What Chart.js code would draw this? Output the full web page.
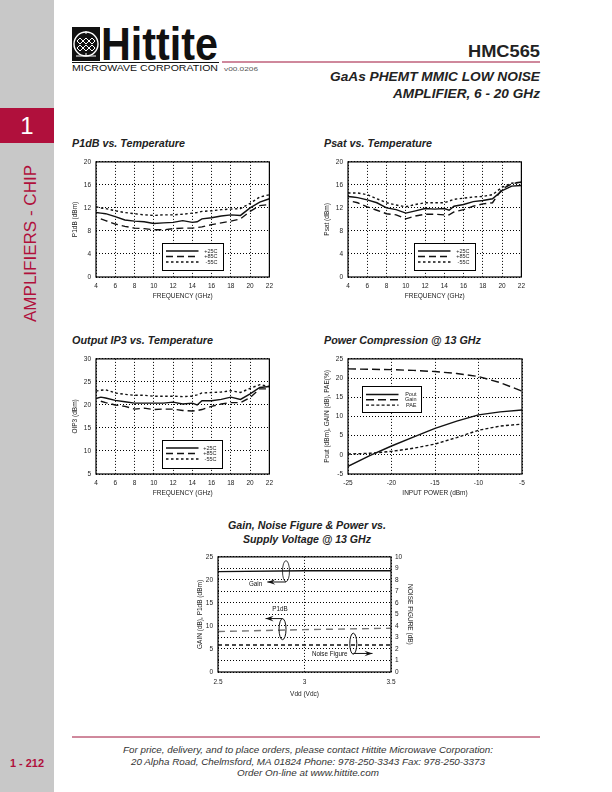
<!DOCTYPE html>
<html>
<head>
<meta charset="utf-8">
<script src="https://cdn.jsdelivr.net/npm/chart.js@4.4.1/dist/chart.umd.min.js"></script>
<style>
html, body { margin: 0; padding: 0; background: #fff; }
#page { position: relative; width: 612px; height: 792px; overflow: hidden; }
svg { position: absolute; left: 0; top: 0; }
canvas { position: absolute; }
</style>
</head>
<body>
<div id="page">
<svg width="612" height="792" font-family="'Liberation Sans', Arial, sans-serif">
  <!-- side bar -->
  <rect x="0" y="0" width="54" height="792" fill="#c8c8c8"/>
  <rect x="0" y="108" width="54" height="35" fill="#b0103c"/>
  <text x="27" y="134" fill="#fff" font-size="24" text-anchor="middle">1</text>
  <text transform="translate(36,322) rotate(-90)" fill="#b0103c" font-size="16" textLength="157" lengthAdjust="spacingAndGlyphs">AMPLIFIERS - CHIP</text>
  <text x="10" y="767" fill="#b0103c" font-size="10.5" font-weight="bold" textLength="34" lengthAdjust="spacingAndGlyphs">1 - 212</text>

  <!-- logo -->
  <rect x="72" y="27" width="28" height="34" fill="#111"/>
  <circle cx="86" cy="44" r="12" fill="none" stroke="#fff" stroke-width="1.4"/>
  <g stroke="#fff" stroke-width="1" fill="none">
    <path d="M80 38 l3 3 l-3 3 l-3 -3 z M86 38 l3 3 l-3 3 l-3 -3 z M92 38 l3 3 l-3 3 l-3 -3 z"/>
    <path d="M80 45 l3 3 l-3 3 l-3 -3 z M86 45 l3 3 l-3 3 l-3 -3 z M92 45 l3 3 l-3 3 l-3 -3 z"/>
    <path d="M86 31 v3 M86 53 v3 M76 56 h20"/>
  </g>
  <text x="101" y="60" fill="#111" font-size="46" font-weight="900" textLength="117" lengthAdjust="spacingAndGlyphs">Hittite</text>
  <line x1="72" y1="62.5" x2="219" y2="62.5" stroke="#111" stroke-width="1"/>
  <text x="72" y="71" fill="#111" font-size="9" textLength="146" lengthAdjust="spacingAndGlyphs">MICROWAVE CORPORATION</text>
  <text x="224" y="71" fill="#555" font-size="6" textLength="34" lengthAdjust="spacingAndGlyphs">v00.0206</text>

  <!-- header -->
  <line x1="222" y1="62" x2="540" y2="62" stroke="#a0123a" stroke-width="1.2"/>
  <text x="540" y="57" fill="#222" font-size="17" font-weight="bold" text-anchor="end" textLength="72" lengthAdjust="spacingAndGlyphs">HMC565</text>
  <text x="540" y="81" fill="#222" font-size="12.5" font-weight="bold" font-style="italic" text-anchor="end" textLength="210" lengthAdjust="spacingAndGlyphs">GaAs PHEMT MMIC LOW NOISE</text>
  <text x="540" y="98" fill="#222" font-size="12.5" font-weight="bold" font-style="italic" text-anchor="end" textLength="147" lengthAdjust="spacingAndGlyphs">AMPLIFIER, 6 - 20 GHz</text>

  <!-- chart titles -->
  <g fill="#222" font-size="10.5" font-weight="bold" font-style="italic">
    <text x="72" y="147" textLength="113" lengthAdjust="spacingAndGlyphs">P1dB vs. Temperature</text>
    <text x="324" y="147" textLength="108" lengthAdjust="spacingAndGlyphs">Psat vs. Temperature</text>
    <text x="72" y="344" textLength="141" lengthAdjust="spacingAndGlyphs">Output IP3 vs. Temperature</text>
    <text x="324" y="344" textLength="157" lengthAdjust="spacingAndGlyphs">Power Compression @ 13 GHz</text>
    <text x="307" y="529" text-anchor="middle" textLength="158" lengthAdjust="spacingAndGlyphs">Gain, Noise Figure &amp; Power vs.</text>
    <text x="307" y="543" text-anchor="middle" textLength="128" lengthAdjust="spacingAndGlyphs">Supply Voltage @ 13 GHz</text>
  </g>

  <!-- footer -->
  <line x1="72" y1="737" x2="540" y2="737" stroke="#a0123a" stroke-width="1"/>
  <g fill="#333" font-size="9" font-style="italic" text-anchor="middle">
    <text x="308" y="753" textLength="370" lengthAdjust="spacingAndGlyphs">For price, delivery, and to place orders, please contact Hittite Microwave Corporation:</text>
    <text x="308" y="765" textLength="354" lengthAdjust="spacingAndGlyphs">20 Alpha Road, Chelmsford, MA 01824  Phone: 978-250-3343  Fax: 978-250-3373</text>
    <text x="308" y="776" textLength="142" lengthAdjust="spacingAndGlyphs">Order On-line at www.hittite.com</text>
  </g>
</svg>
<canvas id="c1"></canvas>
<canvas id="c2"></canvas>
<canvas id="c3"></canvas>
<canvas id="c4"></canvas>
<canvas id="c5"></canvas>
</div>
<script>
// frequency points (GHz) shared by the three temperature plots
const freq = [4, 4.5, 5, 6, 7, 8, 9, 10, 11, 12, 13, 14, 14.5, 15, 16, 17, 18, 19, 20, 21, 22]

// P1dB vs temperature (dBm)
const p1db25 = [11.2, 11.1, 11.0, 10.5, 9.9, 9.7, 9.6, 9.3, 9.4, 9.5, 9.8, 9.5, 9.6, 10.1, 10.3, 10.6, 10.8, 10.7, 12.0, 13.0, 13.6]
const p1db85 = [null, 10.1, 9.8, 9.2, 8.8, 8.5, 8.4, 8.2, 8.2, 8.4, 8.5, 8.5, 8.6, 8.7, 9.1, 9.4, 9.7, 10.1, 11.4, 12.4, 12.6]
const p1dbM55 = [12.2, 12.0, 11.9, 11.5, 11.2, 11.0, 10.8, 10.7, 10.8, 10.8, 10.9, 11.1, 11.2, 11.4, 11.5, 11.7, 11.8, 11.9, 12.8, 13.9, 14.3]

// Psat vs temperature (dBm)
const psat25 = [14.0, 13.9, 13.8, 13.4, 12.9, 12.0, 11.7, 11.1, 11.5, 11.9, 11.8, 11.9, 11.6, 12.3, 12.6, 13.1, 13.3, 13.6, 15.0, 15.8, 15.9]
const psat85 = [null, 13.1, 12.9, 12.2, 11.6, 11.0, 10.8, 10.1, 10.6, 10.9, 10.9, 10.8, 10.8, 11.3, 11.7, 12.3, 12.7, 12.9, 15.3, 16.2, 16.5]
const psatM55 = [14.6, 14.6, 14.6, 14.3, 13.6, 12.9, 12.5, 12.2, 12.6, 12.9, 12.9, 12.9, 13.2, 13.5, 13.7, 13.9, 14.0, 14.3, 15.6, 16.3, 16.5]

// Output IP3 vs temperature (dBm)
const oip325 = [21.4, 21.7, 21.5, 21.0, 20.7, 20.4, 20.4, 20.4, 20.4, 20.6, 20.2, 20.4, 20.0, 20.9, 20.9, 21.2, 21.7, 21.2, 22.4, 23.8, 24.0]
const oip385 = [null, 20.8, 20.5, 20.0, 19.7, 19.1, 19.3, 19.0, 19.1, 19.1, 18.8, 18.7, 18.8, 19.0, 19.7, 20.2, 20.5, 20.5, 21.6, 23.5, 23.5]
const oip3M55 = [23.0, 23.2, 23.3, 22.6, 22.3, 22.1, 22.1, 21.9, 21.9, 21.9, 21.8, 21.9, 22.2, 22.6, 22.7, 22.8, 23.1, 22.7, 23.6, 24.4, 24.0]

// Power compression @ 13 GHz
const inputPower = [-25, -22.5, -20, -17.5, -15, -12.5, -10, -7.5, -5]
const pout = [-3.0, -0.2, 2.3, 4.6, 6.9, 8.8, 10.4, 11.2, 11.7]
const gainComp = [22.4, 22.3, 22.2, 22.0, 21.7, 21.2, 20.4, 18.8, 16.6]
const pae = [0.2, 0.4, 0.9, 1.7, 2.8, 4.5, 6.4, 7.5, 8.0]

// Supply voltage @ 13 GHz
const vdd = [2.5, 3.0, 3.5]
const gainVdd = [21.8, 22.0, 22.0]
const p1dbVdd = [8.8, 9.2, 9.5]
const nfVdd = [2.35, 2.35, 2.35]

const tempLabels = ['+25C', '+85C', '-55C']
const compLabels = ['Pout', 'Gain', 'PAE']

// callouts on the supply voltage plot (data coords)
const vddNotes = [
    { text: 'Gain', tx: 2.717, ty: 19.1, ex: 2.893, ey: 21.9, ay: 19.55, ax: 2.785 },
    { text: 'P1dB', tx: 2.858, ty: 13.6, ex: 2.873, ey: 9.3, ay: 11.6, ax: 2.775 },
    { text: 'Noise Figure', tx: 3.146, ty: 3.8, ex: 3.282, ey: 6.15, ay: 4.03, ax: 3.393 }
]

const FONT = "'Liberation Sans', Arial, sans-serif"
Chart.defaults.font.family = FONT
Chart.defaults.font.size = 6.5
Chart.defaults.color = '#222'

const pts = (xs, ys) => xs.map((x, i) => ({ x, y: ys[i] }))

const solid = []
const longDash = [7, 4]
const shortDash = [2.5, 2.5]

function series(label, xs, ys, dash, extra) {
    return Object.assign({
        label,
        data: pts(xs, ys),
        borderColor: '#111',
        borderWidth: 1.4,
        borderDash: dash,
        pointRadius: 0,
        tension: 0,
        fill: false
    }, extra || {})
}

// black frame round the plot area
const framePlugin = {
    id: 'frame',
    afterDraw(chart) {
        const { ctx, chartArea: a } = chart
        ctx.save()
        ctx.strokeStyle = '#000'
        ctx.lineWidth = 1.2
        ctx.strokeRect(a.left, a.top, a.right - a.left, a.bottom - a.top)
        ctx.restore()
    }
}

// boxed legend inside the plot
const boxLegend = {
    id: 'boxLegend',
    afterDraw(chart, args, opts) {
        if (!opts || !opts.box) return
        const { ctx, chartArea: a } = chart
        const [ox, oy, w, h] = opts.box
        const x = Math.round(a.left + ox) + 0.5, y = Math.round(a.top + oy) + 0.5
        ctx.save()
        ctx.fillStyle = '#fff'
        ctx.fillRect(x, y, w, h)
        ctx.strokeStyle = '#000'
        ctx.lineWidth = 1
        ctx.strokeRect(x, y, w, h)
        ctx.font = '5.5px ' + FONT
        ctx.textBaseline = 'middle'
        ctx.textAlign = 'right'
        chart.data.datasets.forEach((ds, i) => {
            const ly = y + opts.rowTop + i * opts.rowGap
            ctx.strokeStyle = ds.borderColor
            ctx.lineWidth = ds.borderWidth
            ctx.setLineDash(ds.borderDash || [])
            ctx.beginPath()
            ctx.moveTo(x + 3.5, ly)
            ctx.lineTo(x + 36, ly)
            ctx.stroke()
            ctx.setLineDash([])
            ctx.fillStyle = '#222'
            ctx.fillText(ds.label, x + w - opts.textRight, ly)
        })
        ctx.restore()
    }
}

// ellipse + arrow callouts
const callouts = {
    id: 'callouts',
    afterDatasetsDraw(chart, args, opts) {
        if (!opts || !opts.items) return
        const { ctx } = chart
        const xs = chart.scales.x, ys = chart.scales.y
        ctx.save()
        ctx.strokeStyle = '#111'
        ctx.fillStyle = '#111'
        ctx.lineWidth = 0.8
        opts.items.forEach(n => {
            const ex = xs.getPixelForValue(n.ex), ey = ys.getPixelForValue(n.ey)
            ctx.beginPath()
            ctx.ellipse(ex, ey, 3.5, 10.5, 0, 0, Math.PI * 2)
            ctx.stroke()
            const ay = ys.getPixelForValue(n.ay), ax = xs.getPixelForValue(n.ax)
            ctx.lineWidth = 1
            ctx.beginPath()
            ctx.moveTo(ex, ay)
            ctx.lineTo(ax, ay)
            ctx.stroke()
            const dir = ax < ex ? -1 : 1
            ctx.beginPath()
            ctx.moveTo(ax, ay)
            ctx.lineTo(ax - dir * 8, ay - 2.8)
            ctx.lineTo(ax - dir * 5, ay)
            ctx.lineTo(ax - dir * 8, ay + 2.8)
            ctx.closePath()
            ctx.fill()
            ctx.font = '6.3px ' + FONT
            ctx.textAlign = 'center'
            ctx.textBaseline = 'middle'
            ctx.fillText(n.text, xs.getPixelForValue(n.tx), ys.getPixelForValue(n.ty))
        })
        ctx.restore()
    }
}

Chart.register(framePlugin, boxLegend, callouts)

function axis(min, max, step, title, grid) {
    return {
        type: 'linear',
        min, max,
        ticks: { stepSize: step, padding: 5, autoSkip: false, maxRotation: 0, color: '#222', callback: v => String(v) },
        grid: { display: grid !== false, color: '#000', lineWidth: 1, drawTicks: false },
        border: { display: false, dash: [1, 2] },
        title: { display: true, text: title, color: '#222', padding: { top: 4, bottom: 4 } }
    }
}

function makeChart(id, plot, pad, datasets, scales, plugins) {
    const cv = document.getElementById(id)
    cv.width = plot.w + pad.l + pad.r
    cv.height = plot.h + pad.t + pad.b
    cv.style.left = (plot.x - pad.l) + 'px'
    cv.style.top = (plot.y - pad.t) + 'px'
    scales.x.afterFit = s => { s.height = pad.b }
    scales.y.afterFit = s => { s.width = pad.l }
    if (scales.y2) scales.y2.afterFit = s => { s.width = pad.r }
    return new Chart(cv, {
        type: 'line',
        data: { datasets },
        options: {
            responsive: false,
            animation: false,
            devicePixelRatio: 1,
            layout: { padding: { top: pad.t, right: scales.y2 ? 0 : pad.r, left: 0, bottom: 0 } },
            plugins: Object.assign({ legend: { display: false }, tooltip: { enabled: false } }, plugins),
            scales
        }
    })
}

const padStd = { l: 29, r: 8, t: 6, b: 27 }
const tempLegend = { box: [66, 81, 61, 27], rowTop: 7.5, rowGap: 5.5, textRight: 6 }

function tempSets(a, b, c) {
    return [
        series(tempLabels[0], freq, a, solid),
        series(tempLabels[1], freq, b, longDash),
        series(tempLabels[2], freq, c, shortDash)
    ]
}

makeChart('c1', { x: 96, y: 159, w: 174, h: 118 }, padStd,
    tempSets(p1db25, p1db85, p1dbM55),
    { x: axis(4, 22, 2, 'FREQUENCY (GHz)'), y: axis(0, 20, 4, 'P1dB (dBm)') },
    { boxLegend: tempLegend })

makeChart('c2', { x: 348, y: 159, w: 174, h: 118 }, padStd,
    tempSets(psat25, psat85, psatM55),
    { x: axis(4, 22, 2, 'FREQUENCY (GHz)'), y: axis(0, 20, 4, 'Psat (dBm)') },
    { boxLegend: tempLegend })

makeChart('c3', { x: 96, y: 356, w: 174, h: 118 }, padStd,
    tempSets(oip325, oip385, oip3M55),
    { x: axis(4, 22, 2, 'FREQUENCY (GHz)'), y: axis(5, 30, 5, 'OIP3 (dBm)') },
    { boxLegend: { box: [66, 81, 60, 28], rowTop: 7.5, rowGap: 5.5, textRight: 6 } })

makeChart('c4', { x: 348, y: 356, w: 174, h: 118 }, padStd,
    [
        series(compLabels[0], inputPower, pout, solid),
        series(compLabels[1], inputPower, gainComp, [8, 4]),
        series(compLabels[2], inputPower, pae, [3, 2.2])
    ],
    { x: axis(-25, -5, 5, 'INPUT POWER (dBm)'), y: axis(-5, 25, 5, 'Pout (dBm), GAIN (dB), PAE(%)') },
    { boxLegend: { box: [14, 27, 59, 26], rowTop: 8, rowGap: 5.3, textRight: 5 } })

const y2 = axis(0, 10, 1, 'NOISE FIGURE (dB)')
y2.position = 'right'
y2.ticks.padding = 4
const yLeft = axis(0, 25, 5, 'GAIN (dB), P1dB (dBm)')
yLeft.grid.drawOnChartArea = false
const xVdd = axis(2.5, 3.5, 0.5, 'Vdd (Vdc)')
xVdd.ticks.padding = 6

makeChart('c5', { x: 218, y: 554, w: 173, h: 118 }, { l: 26, r: 27, t: 6, b: 30 },
    [
        series('Gain', vdd, gainVdd, solid, { yAxisID: 'y' }),
        series('P1dB', vdd, p1dbVdd, [7, 5], { yAxisID: 'y', borderColor: '#777' }),
        series('Noise Figure', vdd, nfVdd, [4, 3], { yAxisID: 'y2' })
    ],
    { x: xVdd, y: yLeft, y2 },
    { callouts: { items: vddNotes } })
</script>
</body>
</html>
